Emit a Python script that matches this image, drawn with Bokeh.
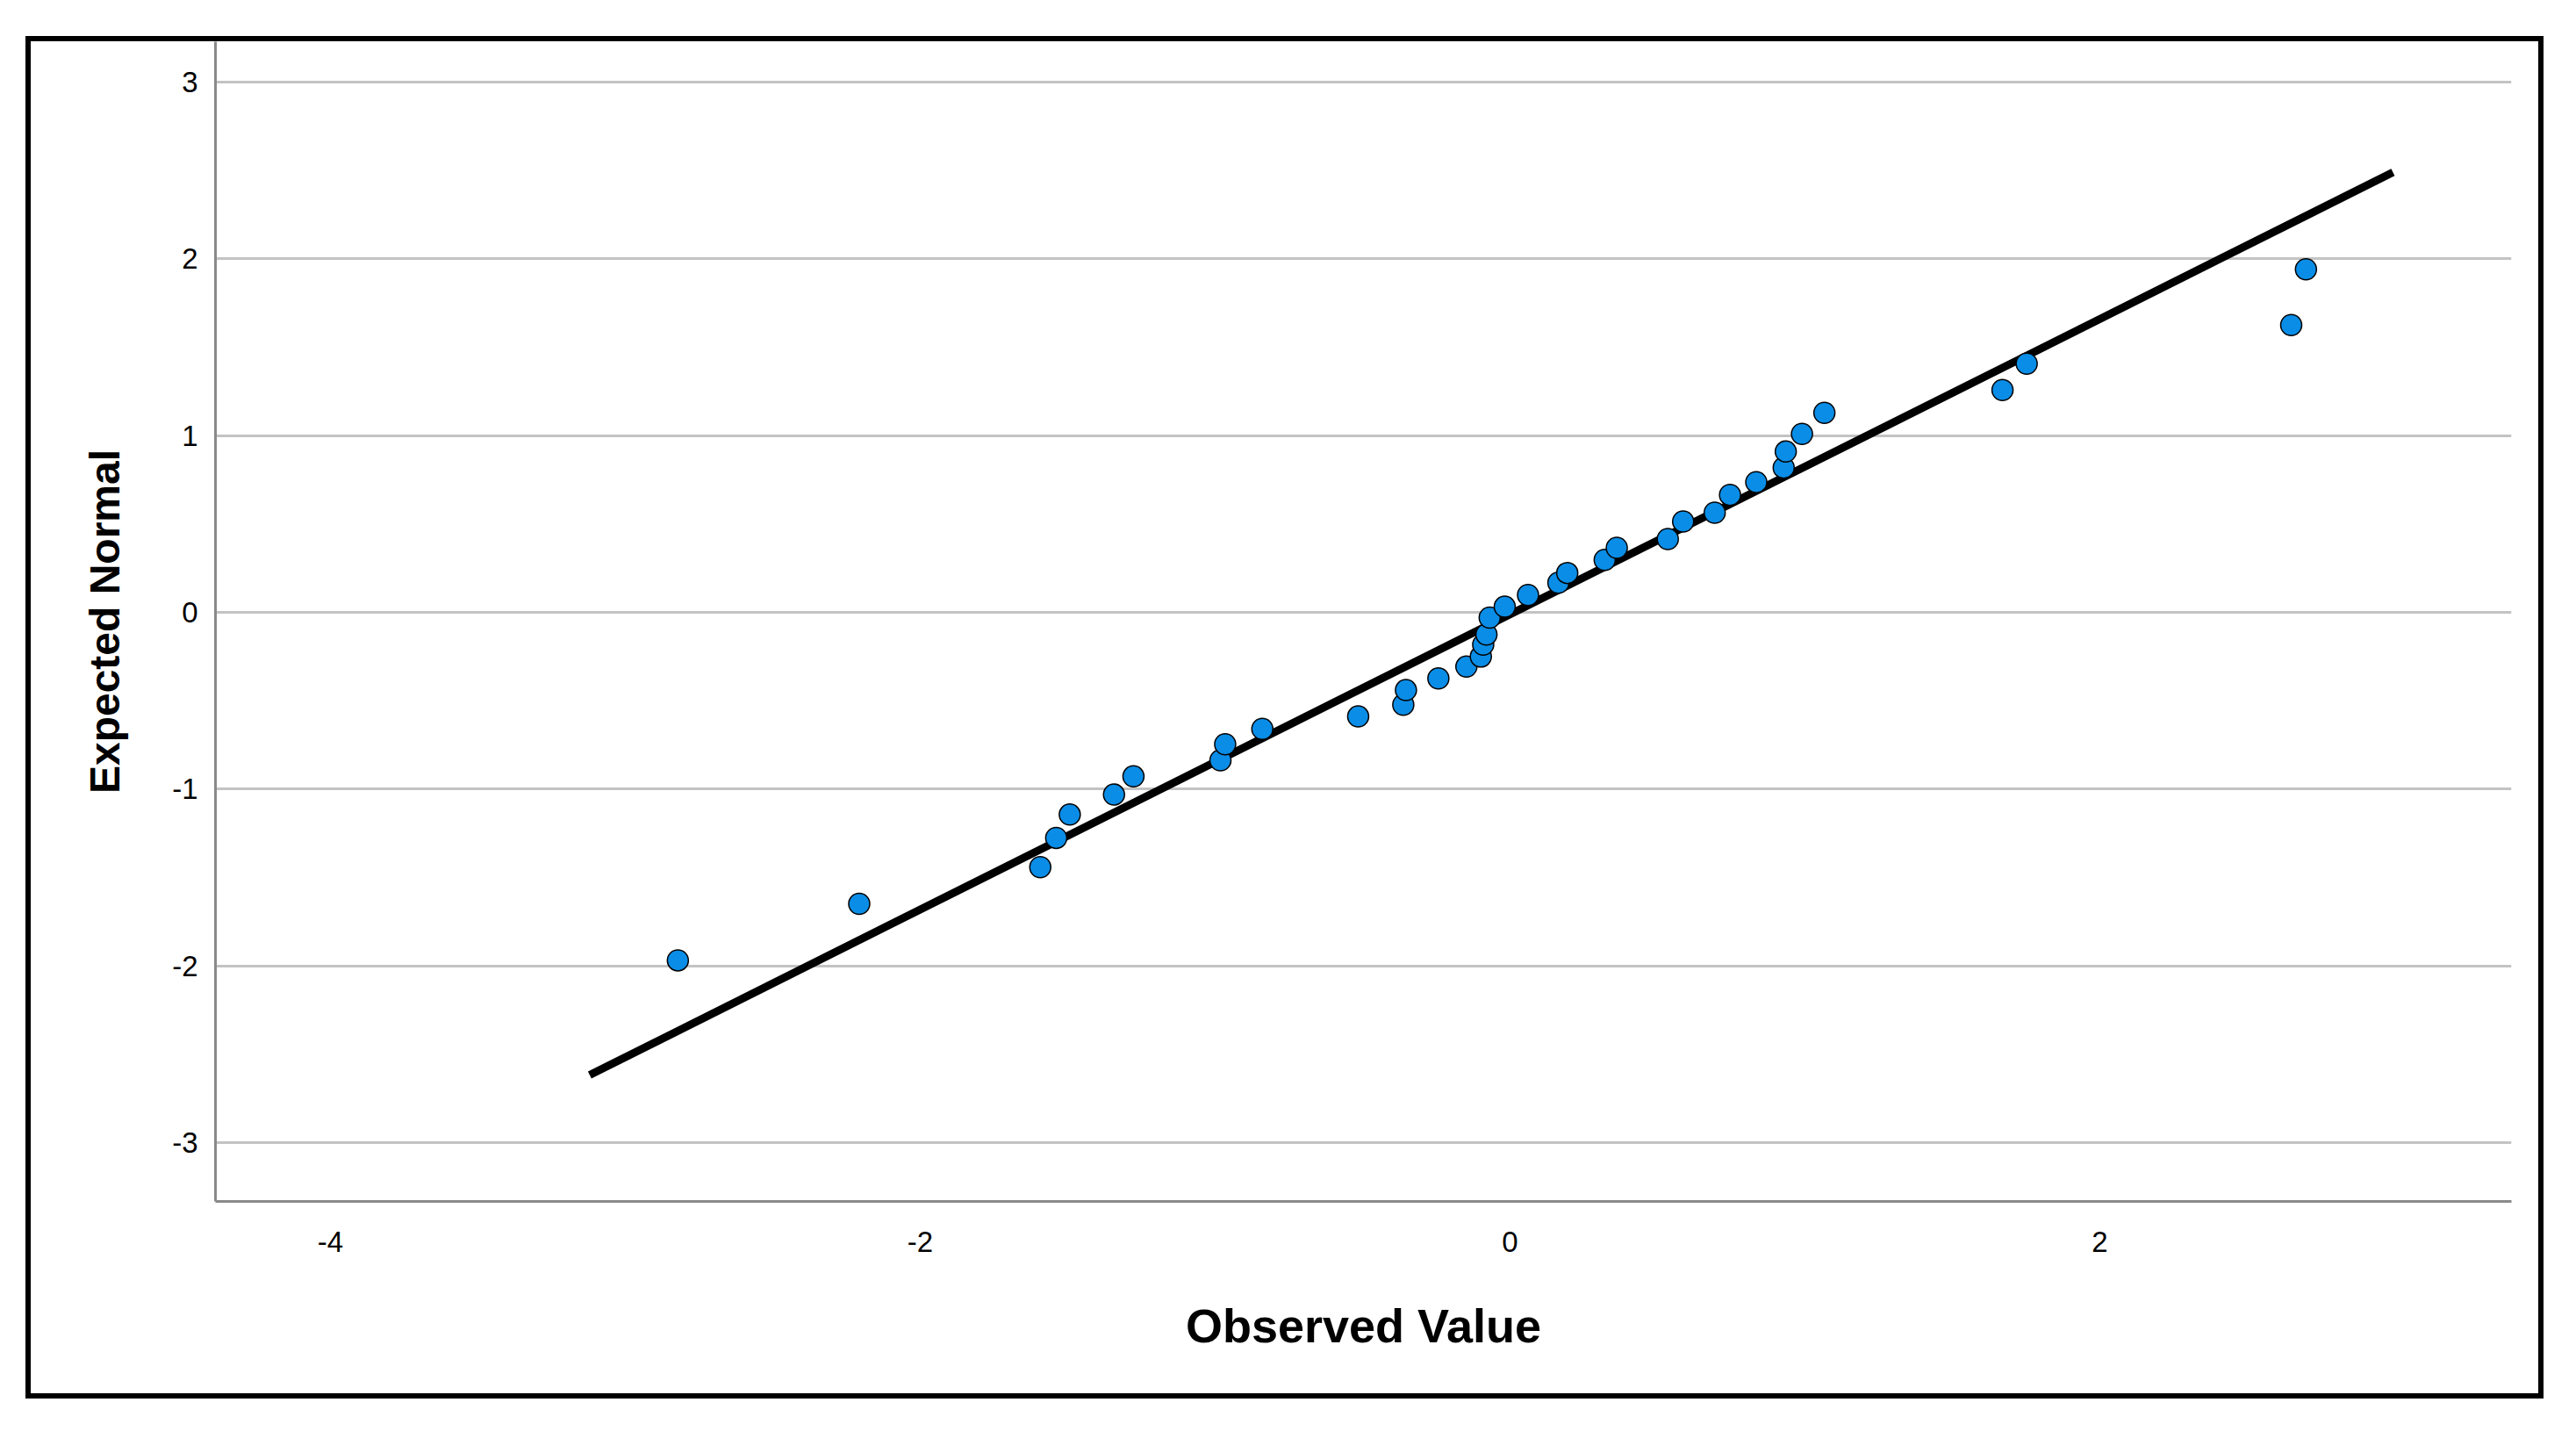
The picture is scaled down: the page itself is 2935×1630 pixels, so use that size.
from bokeh.plotting import figure
from bokeh.models import Range1d, FixedTicker, InlineStyleSheet
from bokeh.embed import file_html
from bokeh.resources import INLINE

# Observed values (x) and expected normal quantiles (y)
observed = [-2.822, -2.207, -1.593, -1.539, -1.493, -1.343, -1.277, -0.982, -0.966, -0.840,
            -0.515, -0.362, -0.353, -0.243, -0.148, -0.099, -0.091, -0.080, -0.069, -0.018,
            0.061, 0.164, 0.194, 0.321, 0.362, 0.535, 0.587, 0.694, 0.746, 0.835,
            0.928, 0.935, 0.990, 1.066, 1.670, 1.752, 2.649, 2.699]
expected = [-1.969, -1.649, -1.442, -1.276, -1.144, -1.031, -0.928, -0.837, -0.746, -0.659,
            -0.589, -0.523, -0.440, -0.374, -0.307, -0.250, -0.182, -0.125, -0.030, 0.032,
            0.098, 0.168, 0.223, 0.297, 0.365, 0.415, 0.514, 0.564, 0.665, 0.737,
            0.819, 0.910, 1.010, 1.129, 1.258, 1.407, 1.626, 1.941]

# Reference line
line_x = [-3.121, 2.994]
line_y = [-2.618, 2.490]

x_ticks = [-4, -2, 0, 2]
y_ticks = [-3, -2, -1, 0, 1, 2, 3]

p = figure(frame_width=2616, frame_height=1321,
           min_border_left=245, min_border_right=66,
           min_border_top=35, min_border_bottom=254,
           x_range=Range1d(-4.39, 3.396), y_range=Range1d(-3.333, 3.229),
           output_backend="svg", toolbar_location=None,
           background_fill_color="white", border_fill_color="white")

p.margin = (12, 0, 0, 0)
p.stylesheets = [InlineStyleSheet(css="""
:host { position: relative; }
:host::after {
  content: "";
  position: absolute;
  left: 29px;
  top: 29px;
  width: 2869px;
  height: 1552px;
  box-sizing: border-box;
  border: 6px solid black;
  pointer-events: none;
  z-index: 1000;
}
""")]

p.outline_line_color = None
p.xgrid.grid_line_color = None
p.ygrid.grid_line_color = "#c3c3c3"
p.ygrid.grid_line_width = 3
p.ygrid.ticker = FixedTicker(ticks=y_ticks)

for ax in (p.xaxis[0], p.yaxis[0]):
    ax.axis_line_color = "#8a8a8a"
    ax.axis_line_width = 3
    ax.major_tick_line_color = None
    ax.minor_tick_line_color = None
    ax.major_label_text_font = "Liberation Sans"
    ax.major_label_text_font_size = "33px"
    ax.major_label_text_color = "black"
    ax.axis_label_text_font = "Liberation Sans"
    ax.axis_label_text_font_style = "bold"
    ax.axis_label_text_color = "black"

p.xaxis.ticker = FixedTicker(ticks=x_ticks)
p.yaxis.ticker = FixedTicker(ticks=y_ticks)
p.xaxis.major_label_overrides = {t: str(t) for t in x_ticks}
p.yaxis.major_label_overrides = {t: str(t) for t in y_ticks}
p.xaxis.axis_label = "Observed Value"
p.yaxis.axis_label = "Expected Normal"
p.xaxis.axis_label_text_font_size = "54px"
p.yaxis.axis_label_text_font_size = "48px"
p.xaxis.major_label_standoff = 28
p.yaxis.major_label_standoff = 14
p.xaxis.axis_label_standoff = 51
p.yaxis.axis_label_standoff = 47

p.line(line_x, line_y, line_color="black", line_width=9)
p.scatter(observed, expected, size=24, fill_color="#0a8de6",
          line_color="black", line_width=1.5)

open("out.html", "w").write(file_html(p, INLINE))
